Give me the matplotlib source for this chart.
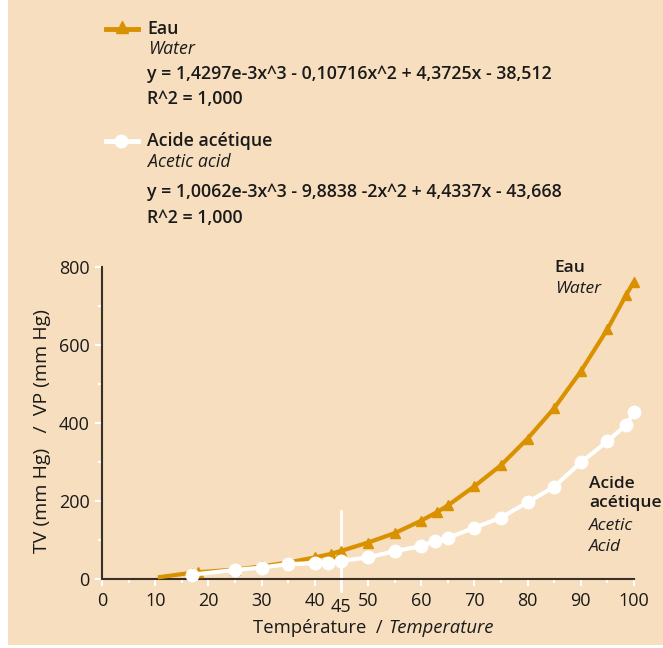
import matplotlib.pyplot as plt
from matplotlib.patches import Rectangle
from matplotlib.lines import Line2D

# data
water_temp = [10.5, 17, 18, 25, 30, 35, 40, 43, 45, 50, 55, 60, 63, 65, 70,
              75, 80, 85, 90, 95, 98.5, 100]
water_vp = [5, 17, 18, 25, 33, 43, 56, 65, 73, 94, 118, 150, 172, 189, 238,
            292, 360, 438, 532, 640, 727, 762]

acid_temp = [17, 25, 30, 35, 40, 42.5, 45, 50, 55, 60, 62.5, 65, 70,
             75, 80, 85, 90, 95, 98.5, 100]
acid_vp = [12, 24, 30, 39, 41, 43, 47, 56, 72, 85, 98, 106, 132,
           158, 197, 237, 299, 353, 395, 428]

x_ticks = [0, 10, 20, 30, 40, 50, 60, 70, 80, 90, 100]
y_ticks = [0, 200, 400, 600, 800]

BG = '#F6DEBE'
GOLD = '#DA9100'
TXT = '#1a1a1a'
BOLD = 'semibold'

plt.rcParams['font.family'] = ['Open Sans', 'DejaVu Sans']

fig = plt.figure(figsize=(6.63, 6.48), dpi=100)
fig.patch.set_facecolor('white')
fig.patches.append(Rectangle((0.012, 0.004), 0.988, 0.996, transform=fig.transFigure,
                             facecolor=BG, edgecolor='none', zorder=-10))

ax = fig.add_axes([0.1538, 0.106, 0.8025, 0.4825])
ax.set_facecolor('none')

ax.plot(water_temp, water_vp, color=GOLD, lw=3, marker='^', ms=7,
        markevery=list(range(1, len(water_temp))), clip_on=False, zorder=3,
        solid_capstyle='butt')
ax.plot(acid_temp, acid_vp, color='white', lw=3, marker='o', ms=9,
        clip_on=False, zorder=3)

# 45 degree marker line
ax.plot([45, 45], [-30, 175], color='white', lw=2, clip_on=False, zorder=2)
ax.text(45, -70, '45', ha='center', va='center', fontsize=13, color=TXT)

ax.set_xlim(0, 100)
ax.set_ylim(0, 800)
ax.set_xticks(x_ticks)
ax.set_yticks(y_ticks)
ax.set_xticks([5 + 10 * i for i in range(10)], minor=True)
ax.set_yticks([100, 300, 500, 700], minor=True)
for s in ['top', 'right']:
    ax.spines[s].set_visible(False)
for s in ['left', 'bottom']:
    ax.spines[s].set_color('#3a3028')
    ax.spines[s].set_linewidth(1.5)
ax.tick_params(which='both', color='white', width=1.5, labelsize=13, labelcolor=TXT)
ax.tick_params(which='major', length=5, pad=4)
ax.tick_params(which='minor', length=3)

ax.set_ylabel('TV (mm Hg)   /  VP (mm Hg)', fontsize=14, color=TXT)
ax.yaxis.set_label_coords(-0.095, 0.474)
fig.text(0.585, 0.031, 'Température  / ', ha='right', va='center', fontsize=13.3, color=TXT)
fig.text(0.585, 0.031, 'Temperature', ha='left', va='center', fontsize=13.3,
         color=TXT, style='italic')

# curve labels
cs = 12.5
ax.text(85, 797, 'Eau', fontsize=cs, fontweight=BOLD, color=TXT, va='center')
ax.text(85.2, 744, 'Water', fontsize=cs, style='italic', color=TXT, va='center')
ax.text(91.6, 245, 'Acide', fontsize=cs, fontweight=BOLD, color=TXT, va='center')
ax.text(91.6, 194, 'acétique', fontsize=cs, fontweight=BOLD, color=TXT, va='center')
ax.text(91.6, 136, 'Acetic', fontsize=cs, style='italic', color=TXT, va='center')
ax.text(91.6, 82, 'Acid', fontsize=cs, style='italic', color=TXT, va='center')

# legend block with fitted equations
def fy(py):
    return 1 - py / 648

def fx(px):
    return px / 663

fig.lines.append(Line2D([fx(106), fx(138)], [fy(29), fy(29)], color=GOLD, lw=3.5,
                        transform=fig.transFigure))
fig.lines.append(Line2D([fx(122)], [fy(27)], color=GOLD, marker='^', ms=8, ls='none',
                        transform=fig.transFigure))
fig.lines.append(Line2D([fx(106), fx(138)], [fy(141), fy(141)], color='white', lw=3.5,
                        transform=fig.transFigure))
fig.lines.append(Line2D([fx(121)], [fy(141)], color='white', marker='o', ms=9, ls='none',
                        transform=fig.transFigure))

fs = 12.8
fig.text(fx(147), fy(29), 'Eau', fontsize=fs, fontweight=BOLD, color=TXT, va='center')
fig.text(fx(148), fy(49), 'Water', fontsize=fs, style='italic', color=TXT, va='center')
fig.text(fx(147), fy(74), 'y = 1,4297e-3x^3 - 0,10716x^2 + 4,3725x - 38,512',
         fontsize=fs, fontweight=BOLD, color=TXT, va='center')
fig.text(fx(147), fy(99), 'R^2 = 1,000', fontsize=fs, fontweight=BOLD, color=TXT, va='center')
fig.text(fx(147), fy(141), 'Acide acétique', fontsize=fs, fontweight=BOLD, color=TXT, va='center')
fig.text(fx(148), fy(162), 'Acetic acid', fontsize=fs, style='italic', color=TXT, va='center')
fig.text(fx(147), fy(192), 'y = 1,0062e-3x^3 - 9,8838 -2x^2 + 4,4337x - 43,668',
         fontsize=fs, fontweight=BOLD, color=TXT, va='center')
fig.text(fx(147), fy(218), 'R^2 = 1,000', fontsize=fs, fontweight=BOLD, color=TXT, va='center')

fig.savefig('out.png', dpi=100, facecolor=fig.get_facecolor())
